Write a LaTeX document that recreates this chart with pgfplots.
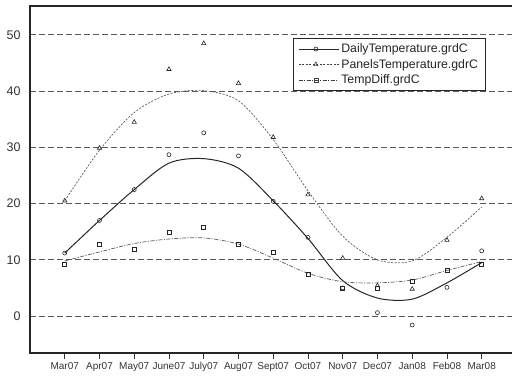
\documentclass[border=0pt]{standalone}
\usepackage{pgfplots}
\pgfplotsset{compat=1.18}
\usepackage{fontspec}
\setmainfont{Liberation Sans}
\begin{document}
\begin{tikzpicture}
\path[use as bounding box] (-30pt,-29pt) rectangle (482pt,353pt);
\begin{axis}[
  at={(0,0)}, anchor=south west,
  scale only axis, width=484pt, height=347pt,
  xmin=-1, xmax=12.93, ymin=-6.58, ymax=55.16,
  xtick={0,...,12},
  xticklabels={Mar07,Apr07,May07,June07,July07,Aug07,Sept07,Oct07,Nov07,Dec07,Jan08,Feb08,Mar08},
  ytick={0,10,...,50},
  ymajorgrids,
  grid style={dash pattern=on 6pt off 3pt, black!65, line width=1pt},
  tick align=outside, xtick pos=bottom, ytick pos=left,
  ytick style={draw=none},
  xtick style={black!80, line width=0.8pt},
  major tick length=6pt,
  axis line style={black!85, line width=1.1pt},
  x tick label style={font=\fontsize{10}{12}\selectfont, text=black!80},
  y tick label style={font=\fontsize{12.5}{14}\selectfont, text=black!80},
  /pgf/number format/assume math mode=true,
  legend cell align=left,
  legend style={at={(0.5434,0.908)}, anchor=north west, draw=black!85, line width=0.8pt,
    fill=white, font=\fontsize{12.3}{13.5}\selectfont, text=black!85,
    inner xsep=5pt, inner ysep=3.5pt, row sep=1pt},
  legend image code/.code={\draw[mark repeat=2,mark phase=2,#1] plot coordinates {(0pt,0pt) (17pt,0pt) (34pt,0pt)}; \path (0pt,0pt) -- (40pt,0pt);},
]
% legend entries
\addlegendimage{black!85, line width=0.9pt, mark=o, mark size=2pt, mark options={solid, line width=0.6pt}}
\addlegendentry{DailyTemperature.grdC}
\addlegendimage{black!75, line width=0.6pt, dash pattern=on 2pt off 1.5pt, mark=triangle, mark size=2.5pt, mark options={solid, line width=0.6pt}}
\addlegendentry{PanelsTemperature.gdrC}
\addlegendimage{black!75, line width=0.6pt, dash pattern=on 4pt off 1.5pt on 1pt off 1.5pt, mark=square, mark size=2pt, mark options={solid, line width=0.6pt}}
\addlegendentry{TempDiff.grdC}

% smooth curves
\addplot[forget plot, smooth, black!85, line width=1pt] coordinates {
 (0,11.2) (1,17.0) (2,22.5) (3,27.2) (4,28.0) (5,26.3) (6,20.5) (7,13.8) (8,6.3) (9,3.2) (10,3.0) (11,5.9) (12,9.5)};
\addplot[forget plot, smooth, black!65, line width=0.7pt, dash pattern=on 2pt off 1.5pt] coordinates {
 (0,20.5) (1,29.5) (2,36.2) (3,39.5) (4,40.1) (5,38.3) (6,31.4) (7,22.3) (8,14.2) (9,10.0) (10,9.8) (11,14.0) (12,19.4)};
\addplot[forget plot, smooth, black!65, line width=0.7pt, dash pattern=on 4pt off 1.5pt on 1pt off 1.5pt] coordinates {
 (0,9.8) (1,11.4) (2,12.9) (3,13.7) (4,13.9) (5,12.8) (6,10.3) (7,7.6) (8,6.1) (9,5.9) (10,6.4) (11,8.1) (12,9.7)};

% data points
\addplot[forget plot, only marks, mark=o, mark size=2pt, black!85, mark options={line width=0.6pt}] coordinates {
 (0,11.2) (1,17.0) (2,22.5) (3,28.7) (4,32.6) (5,28.5) (6,20.4) (7,14.0) (8,5.0) (9,0.6) (10,-1.6) (11,5.1) (12,11.6)};
\addplot[forget plot, only marks, mark=triangle, mark size=2.5pt, black!85, mark options={line width=0.6pt}] coordinates {
 (0,20.5) (1,29.9) (2,34.5) (3,43.9) (4,48.5) (5,41.4) (6,31.8) (7,21.6) (8,10.3) (9,5.4) (10,4.8) (11,13.5) (12,20.9)};
\addplot[forget plot, only marks, mark=square, mark size=2pt, black!85, mark options={line width=0.6pt}] coordinates {
 (0,9.25) (1,12.7) (2,11.9) (3,14.9) (4,15.8) (5,12.8) (6,11.3) (7,7.5) (8,5.0) (9,4.9) (10,6.2) (11,8.1) (12,9.2)};
\end{axis}
\end{tikzpicture}
\end{document}
